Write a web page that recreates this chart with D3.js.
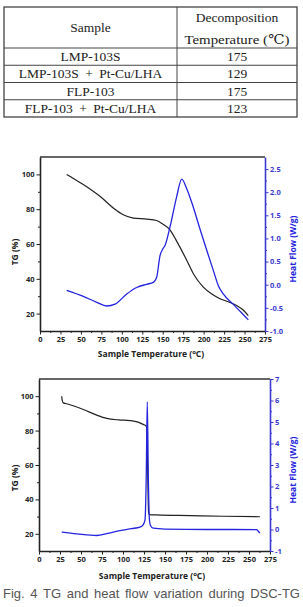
<!DOCTYPE html>
<html>
<head>
<meta charset="utf-8">
<script src="https://cdn.jsdelivr.net/npm/d3@7"></script>
<style>
  body { margin: 0; background: #fff; }
</style>
</head>
<body>
<div id="chart"></div>
<script>
(function () {

  // ---- table data ----
  const samples = ["LMP-103S", "LMP-103S + Pt-Cu/LHA", "FLP-103", "FLP-103 + Pt-Cu/LHA"];
  const decompTemps = [175, 129, 175, 123];

  // ---- chart 1 (LMP-103S) ----
  const tg1Temp = [32.6, 38, 52.9, 73.3, 89.6, 101.8, 114, 130.4, 142.6, 150, 158.9, 166, 179.3, 188, 199.6, 210, 220, 230, 240.4, 248, 254.6];
  const tg1Val  = [100, 98.5, 94.2, 87.4, 80.7, 76.8, 74.9, 74.3, 73.5, 71.5, 68.1, 62.5, 50.7, 42.5, 35.2, 31.2, 28.5, 26.8, 24.6, 22.2, 18.8];
  const hf1Temp = [32.6, 52.9, 69.3, 81.5, 91.7, 106, 118.2, 130.4, 138.5, 142.6, 146.7, 150, 152.8, 158.9, 167, 173.2, 179.2, 186, 195.6, 203.7, 212, 218, 224, 236, 246, 254.6];
  const hf1Val  = [-0.12, -0.25, -0.38, -0.46, -0.42, -0.2, -0.06, 0.01, 0.05, 0.16, 0.63, 0.77, 0.85, 1.25, 1.9, 2.28, 2.08, 1.75, 1.2, 0.75, 0.3, -0.02, -0.2, -0.42, -0.6, -0.76];
  const hf1Ticks = [-1.0, -0.5, 0.0, 0.5, 1.0, 1.5, 2.0, 2.5];

  // ---- chart 2 (LMP-103S + Pt-Cu/LHA) ----
  const tg2Temp = [27, 27.5, 28.9, 33, 52.7, 68.7, 80.6, 95, 108.3, 118, 124, 127.4, 128.3, 130.5, 131.5, 140, 180, 220, 263];
  const tg2Val  = [100, 98, 96.1, 95.6, 92.3, 89, 87.1, 86.2, 85.8, 84.9, 83.6, 82.7, 81.8, 32.0, 31.2, 31.0, 30.6, 30.2, 29.9];
  const hf2Temp = [27, 45, 68.7, 82, 96.4, 110, 120.2, 124, 126.2, 127.6, 128.9, 130.2, 131.4, 132.6, 136, 150, 199.6, 230, 259, 261, 263];
  const hf2Val  = [-0.12, -0.2, -0.28, -0.18, -0.05, 0.04, 0.11, 0.22, 0.45, 2.3, 5.94, 2.3, 0.5, 0.2, 0.06, 0.02, 0.0, 0.0, -0.01, -0.08, -0.17];
  const hf2Ticks = [-1, 0, 1, 2, 3, 4, 5, 6, 7];

  // shared
  const xTickVals = [0, 25, 50, 75, 100, 125, 150, 175, 200, 225, 250, 275];
  const tgTicks = [20, 40, 60, 80, 100];

  const caption = "Fig. 4 TG and heat flow variation during DSC-TG";

  const blue = "#2424e0";
  const axisBlue = "#3a3ad0";

  const svg = d3.select("#chart")
    .append("svg")
    .attr("width", 303)
    .attr("height", 607);

  // ----------------
  // Table
  // ----------------
  const tbl = { left: 4, right: 297, top: 7, head: 48, rowH: 17.25, split: 177 };
  const tg = svg.append("g").attr("font-family", "'Liberation Serif', 'DejaVu Serif', serif")
    .attr("font-size", 13.5).attr("fill", "#222");
  const tblBottom = tbl.head + tbl.rowH * samples.length;

  tg.append("rect")
    .attr("x", tbl.left).attr("y", tbl.top)
    .attr("width", tbl.right - tbl.left).attr("height", tblBottom - tbl.top)
    .attr("fill", "none").attr("stroke", "#444").attr("stroke-width", 1.3);
  tg.append("line")
    .attr("x1", tbl.split).attr("x2", tbl.split)
    .attr("y1", tbl.top).attr("y2", tblBottom)
    .attr("stroke", "#444").attr("stroke-width", 1);
  tg.selectAll("line.row")
    .data(samples)
    .join("line")
    .attr("class", "row")
    .attr("x1", tbl.left).attr("x2", tbl.right)
    .attr("y1", (d, i) => tbl.head + i * tbl.rowH)
    .attr("y2", (d, i) => tbl.head + i * tbl.rowH)
    .attr("stroke", "#444").attr("stroke-width", 1);

  const c1 = (tbl.left + tbl.split) / 2, c2 = (tbl.split + tbl.right) / 2;
  tg.append("text").attr("x", c1).attr("y", 32).attr("text-anchor", "middle").text("Sample");
  tg.append("text").attr("x", c2).attr("y", 21.5).attr("text-anchor", "middle").text("Decomposition");
  tg.append("text").attr("x", c2).attr("y", 43.5).attr("text-anchor", "middle")
    .attr("textLength", 105).attr("lengthAdjust", "spacingAndGlyphs")
    .text("Temperature (\u2103)");

  tg.selectAll("text.sample")
    .data(samples)
    .join("text")
    .attr("class", "sample")
    .attr("x", c1)
    .attr("y", (d, i) => tbl.head + i * tbl.rowH + 13)
    .attr("text-anchor", "middle")
    .attr("word-spacing", 3)
    .text(d => d);
  tg.selectAll("text.temp")
    .data(decompTemps)
    .join("text")
    .attr("class", "temp")
    .attr("x", c2)
    .attr("y", (d, i) => tbl.head + i * tbl.rowH + 13)
    .attr("text-anchor", "middle")
    .text(d => d);

  // ----------------
  // Charts
  // ----------------
  function styleTicks(sel, color) {
    sel.attr("font-family", "'Open Sans', sans-serif")
      .attr("font-size", 7.5)
      .attr("font-weight", "bold");
    sel.selectAll("text").attr("fill", color);
    sel.selectAll("line").attr("stroke", color).attr("stroke-width", 1);
    sel.select("path.domain").attr("stroke", color).attr("stroke-width", 1.6);
  }

  function mids(vals) {
    return vals.slice(0, -1).map((v, i) => (v + vals[i + 1]) / 2);
  }

  function drawChart(o) {
    const g = svg.append("g");
    const x = d3.scaleLinear().domain([0, 275]).range([o.left, o.right]);
    const y = d3.scaleLinear().domain([10, 110]).range([o.bottom, o.top]);
    const y2 = d3.scaleLinear().domain(o.hfDomain).range([o.bottom, o.top]);

    // top border
    g.append("line")
      .attr("x1", o.left).attr("x2", o.right)
      .attr("y1", o.top).attr("y2", o.top)
      .attr("stroke", "#333").attr("stroke-width", 1.4);

    // minor ticks
    const mx = g.append("g").attr("transform", `translate(0,${o.bottom})`)
      .call(d3.axisBottom(x).tickValues(mids(xTickVals)).tickSize(2).tickFormat(""));
    mx.select("path.domain").remove();
    mx.selectAll("line").attr("stroke", "#222");
    const my = g.append("g").attr("transform", `translate(${o.left},0)`)
      .call(d3.axisLeft(y).tickValues([30, 50, 70, 90]).tickSize(2).tickFormat(""));
    my.select("path.domain").remove();
    my.selectAll("line").attr("stroke", "#222");
    const my2 = g.append("g").attr("transform", `translate(${o.right},0)`)
      .call(d3.axisRight(y2).tickValues(mids(o.hfTicks)).tickSize(2).tickFormat(""));
    my2.select("path.domain").remove();
    my2.selectAll("line").attr("stroke", axisBlue);

    // major axes
    g.append("g").attr("transform", `translate(0,${o.bottom})`)
      .call(d3.axisBottom(x).tickValues(xTickVals).tickSize(3.5).tickSizeOuter(0).tickPadding(2.5))
      .call(s => styleTicks(s, "#222"));
    g.append("g").attr("transform", `translate(${o.left},0)`)
      .call(d3.axisLeft(y).tickValues(tgTicks).tickSize(3.5).tickSizeOuter(0).tickPadding(2))
      .call(s => styleTicks(s, "#222"));
    g.append("g").attr("transform", `translate(${o.right},0)`)
      .call(d3.axisRight(y2).tickValues(o.hfTicks).tickSize(3.5).tickSizeOuter(0).tickPadding(1.5)
        .tickFormat(o.hfFmt))
      .call(s => styleTicks(s, axisBlue));

    // axis titles
    const title = g.append("g")
      .attr("font-family", "'Open Sans', sans-serif")
      .attr("font-size", 8.5)
      .attr("font-weight", "bold");
    title.append("text")
      .attr("transform", `translate(18,${o.tgTitleY}) rotate(-90)`)
      .attr("text-anchor", "middle")
      .attr("fill", "#222")
      .text("TG (%)");
    title.append("text")
      .attr("transform", `translate(296,${o.hfTitleY}) rotate(-90)`)
      .attr("text-anchor", "middle")
      .attr("fill", blue)
      .text("Heat Flow (W/g)");
    const xt = title.append("text")
      .attr("x", o.xTitleX).attr("y", o.xTitleY)
      .attr("text-anchor", "middle")
      .attr("fill", "#222");
    xt.append("tspan").text("Sample Temperature (");
    xt.append("tspan").attr("font-size", 6).attr("dy", -3).text("o");
    xt.append("tspan").attr("dy", 3).text("C)");

    // curves
    const tgLine = d3.line().x(d => x(d[0])).y(d => y(d[1])).curve(d3.curveMonotoneX);
    const hfLine = d3.line().x(d => x(d[0])).y(d => y2(d[1])).curve(d3.curveMonotoneX);

    g.append("path")
      .datum(d3.zip(o.tgTemp, o.tgVal))
      .attr("d", tgLine)
      .attr("fill", "none")
      .attr("stroke", "#222")
      .attr("stroke-width", 1.2);
    g.append("path")
      .datum(d3.zip(o.hfTemp, o.hfVal))
      .attr("d", hfLine)
      .attr("fill", "none")
      .attr("stroke", blue)
      .attr("stroke-width", 1.3);
  }

  drawChart({
    left: 40, right: 265, top: 157, bottom: 331,
    hfDomain: [-1.0, 2.76], hfTicks: hf1Ticks, hfFmt: d => d.toFixed(1),
    tgTemp: tg1Temp, tgVal: tg1Val, hfTemp: hf1Temp, hfVal: hf1Val,
    tgTitleY: 252, hfTitleY: 249, xTitleX: 151, xTitleY: 357
  });

  drawChart({
    left: 39, right: 270, top: 379, bottom: 551,
    hfDomain: [-1, 7], hfTicks: hf2Ticks, hfFmt: d => d,
    tgTemp: tg2Temp, tgVal: tg2Val, hfTemp: hf2Temp, hfVal: hf2Val,
    tgTitleY: 478, hfTitleY: 470, xTitleX: 152, xTitleY: 579
  });

  // ----------------
  // Caption (justified)
  // ----------------
  const cap = svg.append("g")
    .attr("font-family", "'Liberation Sans', 'DejaVu Sans', sans-serif")
    .attr("font-size", 13)
    .attr("fill", "#555");
  const words = caption.split(" ");
  const wt = cap.selectAll("text")
    .data(words)
    .join("text")
    .attr("y", 598)
    .text(d => d);
  const widths = [];
  wt.each(function () { widths.push(this.getComputedTextLength()); });
  const capLeft = 3, capRight = 300;
  const gap = (capRight - capLeft - d3.sum(widths)) / (words.length - 1);
  let cx = capLeft;
  wt.attr("x", (d, i) => {
    const px = cx;
    cx += widths[i] + gap;
    return px;
  });

})();
</script>
</body>
</html>
